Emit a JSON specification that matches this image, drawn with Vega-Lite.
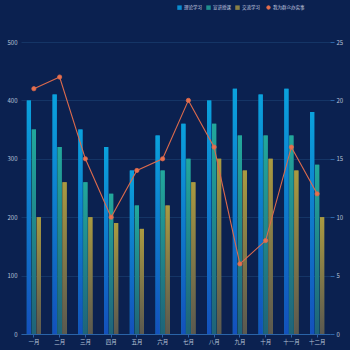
{
  "$schema": "https://vega.github.io/schema/vega-lite/v6.json",
  "width": 309,
  "height": 292,
  "autosize": "none",
  "padding": {"left": 21, "top": 42, "right": 20, "bottom": 16},
  "background": "#0b2150",
  "config": {
    "view": {"stroke": null},
    "font": "Noto Sans CJK SC",
    "axis": {"labelColor": "#b8c4d8", "labelFontSize": 6, "titleFontSize": 6}
  },
  "datasets": {
    "bars": [
      {"month": "一月", "series": "理论学习", "value": 400},
      {"month": "一月", "series": "宣讲授课", "value": 350},
      {"month": "一月", "series": "交流学习", "value": 200},
      {"month": "二月", "series": "理论学习", "value": 410},
      {"month": "二月", "series": "宣讲授课", "value": 320},
      {"month": "二月", "series": "交流学习", "value": 260},
      {"month": "三月", "series": "理论学习", "value": 350},
      {"month": "三月", "series": "宣讲授课", "value": 260},
      {"month": "三月", "series": "交流学习", "value": 200},
      {"month": "四月", "series": "理论学习", "value": 320},
      {"month": "四月", "series": "宣讲授课", "value": 240},
      {"month": "四月", "series": "交流学习", "value": 190},
      {"month": "五月", "series": "理论学习", "value": 280},
      {"month": "五月", "series": "宣讲授课", "value": 220},
      {"month": "五月", "series": "交流学习", "value": 180},
      {"month": "六月", "series": "理论学习", "value": 340},
      {"month": "六月", "series": "宣讲授课", "value": 280},
      {"month": "六月", "series": "交流学习", "value": 220},
      {"month": "七月", "series": "理论学习", "value": 360},
      {"month": "七月", "series": "宣讲授课", "value": 300},
      {"month": "七月", "series": "交流学习", "value": 260},
      {"month": "八月", "series": "理论学习", "value": 400},
      {"month": "八月", "series": "宣讲授课", "value": 360},
      {"month": "八月", "series": "交流学习", "value": 300},
      {"month": "九月", "series": "理论学习", "value": 420},
      {"month": "九月", "series": "宣讲授课", "value": 340},
      {"month": "九月", "series": "交流学习", "value": 280},
      {"month": "十月", "series": "理论学习", "value": 410},
      {"month": "十月", "series": "宣讲授课", "value": 340},
      {"month": "十月", "series": "交流学习", "value": 300},
      {"month": "十一月", "series": "理论学习", "value": 420},
      {"month": "十一月", "series": "宣讲授课", "value": 340},
      {"month": "十一月", "series": "交流学习", "value": 280},
      {"month": "十二月", "series": "理论学习", "value": 380},
      {"month": "十二月", "series": "宣讲授课", "value": 290},
      {"month": "十二月", "series": "交流学习", "value": 200}
    ],
    "line": [
      {"month": "一月", "series": "我为群众办实事", "count": 21},
      {"month": "二月", "series": "我为群众办实事", "count": 22},
      {"month": "三月", "series": "我为群众办实事", "count": 15},
      {"month": "四月", "series": "我为群众办实事", "count": 10},
      {"month": "五月", "series": "我为群众办实事", "count": 14},
      {"month": "六月", "series": "我为群众办实事", "count": 15},
      {"month": "七月", "series": "我为群众办实事", "count": 20},
      {"month": "八月", "series": "我为群众办实事", "count": 16},
      {"month": "九月", "series": "我为群众办实事", "count": 6},
      {"month": "十月", "series": "我为群众办实事", "count": 8},
      {"month": "十一月", "series": "我为群众办实事", "count": 16},
      {"month": "十二月", "series": "我为群众办实事", "count": 12}
    ]
  },
  "encoding": {
    "x": {
      "field": "month",
      "type": "nominal",
      "sort": null,
      "title": null,
      "scale": {"domain": ["一月", "二月", "三月", "四月", "五月", "六月", "七月", "八月", "九月", "十月", "十一月", "十二月"], "paddingInner": 0.45, "paddingOuter": 0.225},
      "axis": {"labelAngle": 0, "domainColor": "#2a64a8", "domainWidth": 1, "tickColor": "#2a64a8", "tickSize": 3, "labelPadding": 2, "grid": false, "labelFontSize": 5.5}
    }
  },
  "layer": [
    {
      "layer": [
        {
          "data": {"name": "bars"},
          "mark": {"type": "bar"},
          "encoding": {
            "xOffset": {"field": "series", "type": "nominal", "scale": {"domain": ["理论学习", "宣讲授课", "交流学习"], "paddingInner": 0.15}},
            "y": {
              "field": "value",
              "type": "quantitative",
              "title": null,
              "scale": {"domain": [0, 500]},
              "axis": {"values": [0, 100, 200, 300, 400, 500], "domain": false, "ticks": false, "gridColor": "#153566", "gridWidth": 1, "labelPadding": 4}
            },
            "color": {
              "field": "series",
              "type": "nominal",
              "scale": {"domain": ["理论学习", "宣讲授课", "交流学习"], "range": ["#0a8cd0", "#1f8e8e", "#8a8046"]},
              "legend": {
                "orient": "none",
                "legendX": 156,
                "legendY": -37,
                "direction": "horizontal",
                "title": null,
                "symbolType": "square",
                "symbolSize": 20,
                "symbolStrokeWidth": 0,
                "labelColor": "#c8d0e0",
                "labelFontSize": 4.5,
                "columnPadding": 4,
                "labelOffset": 2
              }
            }
          }
        },
        {
          "data": {"name": "bars"},
          "transform": [{"filter": "datum.series === '理论学习'"}],
          "mark": {"type": "bar", "color": {"gradient": "linear", "x1": 0, "y1": 0, "x2": 0, "y2": 1, "stops": [{"offset": 0, "color": "#0aa2dc"}, {"offset": 1, "color": "#1450bc"}]}},
          "encoding": {
            "xOffset": {"field": "series", "type": "nominal", "scale": {"domain": ["理论学习", "宣讲授课", "交流学习"], "paddingInner": 0.15}},
            "y": {"field": "value", "type": "quantitative"}
          }
        },
        {
          "data": {"name": "bars"},
          "transform": [{"filter": "datum.series === '宣讲授课'"}],
          "mark": {"type": "bar", "color": {"gradient": "linear", "x1": 0, "y1": 0, "x2": 0, "y2": 1, "stops": [{"offset": 0, "color": "#22a89c"}, {"offset": 1, "color": "#1f6378"}]}},
          "encoding": {
            "xOffset": {"field": "series", "type": "nominal", "scale": {"domain": ["理论学习", "宣讲授课", "交流学习"], "paddingInner": 0.15}},
            "y": {"field": "value", "type": "quantitative"}
          }
        },
        {
          "data": {"name": "bars"},
          "transform": [{"filter": "datum.series === '交流学习'"}],
          "mark": {"type": "bar", "color": {"gradient": "linear", "x1": 0, "y1": 0, "x2": 0, "y2": 1, "stops": [{"offset": 0, "color": "#aa9a40"}, {"offset": 1, "color": "#5a5850"}]}},
          "encoding": {
            "xOffset": {"field": "series", "type": "nominal", "scale": {"domain": ["理论学习", "宣讲授课", "交流学习"], "paddingInner": 0.15}},
            "y": {"field": "value", "type": "quantitative"}
          }
        }
      ]
    },
    {
      "data": {"name": "line"},
      "mark": {"type": "line", "color": "#dc6a4c", "strokeWidth": 1.1, "point": {"filled": true, "fill": "#e8704e", "stroke": "#f8c8b0", "strokeWidth": 0.8, "size": 18}},
      "encoding": {
        "y": {
          "field": "count",
          "type": "quantitative",
          "title": null,
          "scale": {"domain": [0, 25]},
          "axis": {"orient": "right", "values": [0, 5, 10, 15, 20, 25], "grid": false, "domain": false, "tickColor": "#2a64a8", "tickSize": 4, "labelPadding": 2}
        },
        "stroke": {
          "field": "series",
          "type": "nominal",
          "scale": {"range": ["#dc6a4c"]},
          "legend": {
            "orient": "none",
            "legendX": 245,
            "legendY": -37,
            "title": null,
            "symbolType": "circle",
            "symbolSize": 12,
            "symbolFillColor": "#e8704e",
            "symbolStrokeWidth": 1,
            "labelColor": "#c8d0e0",
            "labelFontSize": 4.5,
            "labelOffset": 2
          }
        }
      }
    }
  ],
  "resolve": {"scale": {"y": "independent"}}
}
